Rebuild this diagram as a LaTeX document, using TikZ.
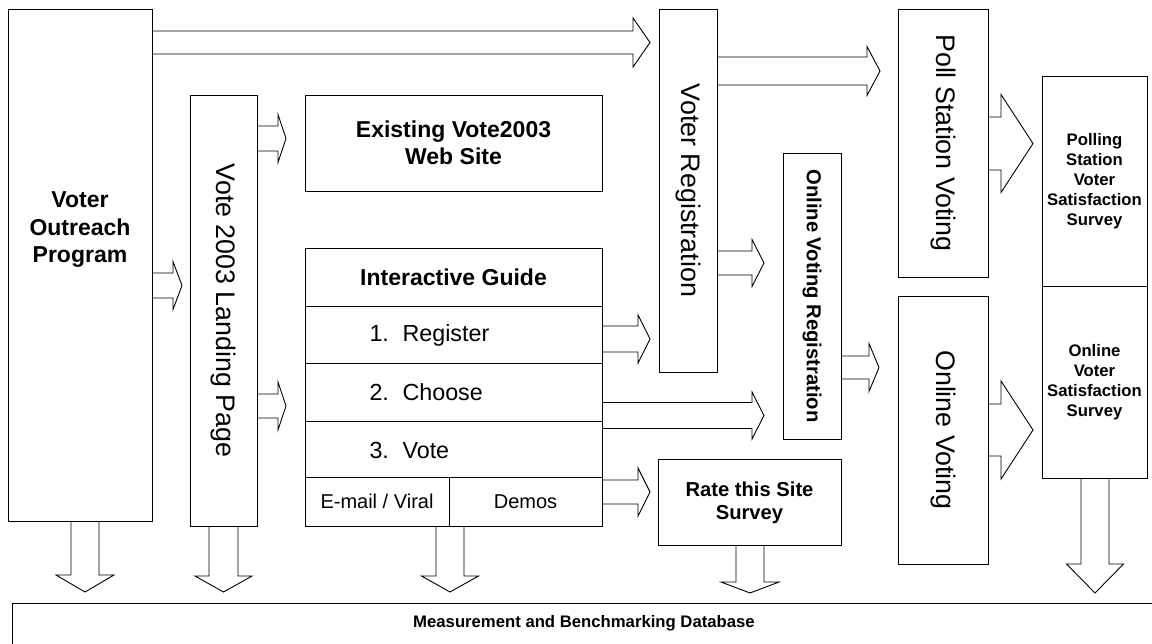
\documentclass[tikz,border=0pt]{standalone}
\usepackage{fontspec}
\setmainfont{Liberation Sans}
\usetikzlibrary{backgrounds}
\begin{document}
\begin{tikzpicture}[x=1pt,y=-1pt,
  box/.style={draw, line width=0.9pt, inner sep=0pt, align=center, fill=white},
  blk/.style={draw, line width=0.9pt, fill=white, line join=miter},
  bigb/.style={font=\fontsize{23}{27.5}\selectfont\bfseries, align=center},
  midb/.style={font=\fontsize{20.2}{23}\selectfont\bfseries},
  smlb/.style={font=\fontsize{16.7}{20}\selectfont\bfseries},
  rot/.style={font=\fontsize{26.8}{30}\selectfont, rotate=-90},
  item/.style={font=\fontsize{23.3}{27}\selectfont},
  itms/.style={font=\fontsize{20}{24}\selectfont}]
\useasboundingbox (0,0) rectangle (1152,643);
\clip (0,0) rectangle (1152,643);
% right block arrow: start node, x head, x tip, y centre, shaft half, head half
\newcommand\rarrow[6]{\draw[blk] (#1.east |- 0,#4-#5) -- (#2,#4-#5) -- (#2,#4-#6) -- (#3,#4) -- (#2,#4+#6) -- (#2,#4+#5) -- (#1.east |- 0,#4+#5);}
% down block arrow: start node, x centre, y head, y tip, shaft half, head half
\newcommand\darrow[6]{\draw[blk] (#2-#5,0 |- #1.south) -- (#2-#5,#3) -- (#2-#6,#3) -- (#2,#4) -- (#2+#6,#3) -- (#2+#5,#3) -- (#2+#5,0 |- #1.south);}

% boxes
\node[box, minimum width=144, minimum height=512] (outreach) at (80,265) {};
\node[bigb] at (80,230) {Voter\\Outreach\\Program};
\node[box, minimum width=67, minimum height=431] (landing) at (223.5,310.5) {};
\node[rot] at (landing.center) {Vote 2003 Landing Page};
\node[box, bigb, minimum width=297, minimum height=96] (existing) at (453.5,143) {Existing Vote2003\\Web Site};
\node[box, bigb, minimum width=297, minimum height=58] (guide) at (453.5,277) {Interactive Guide};
\node[box, minimum width=297, minimum height=57] (reg) at (453.5,334.5) {};
\node[box, minimum width=297, minimum height=58] (choose) at (453.5,392) {};
\node[box, minimum width=297, minimum height=56] (vote) at (453.5,449) {};
\node[box, itms, minimum width=144, minimum height=49] (email) at (377,501.5) {E-mail / Viral};
\node[box, itms, minimum width=153, minimum height=49] (demos) at (525.5,501.5) {Demos};
\node[item, anchor=west] at (366,335) {\makebox[33pt][l]{1.}Register};
\node[item, anchor=west] at (366,392) {\makebox[33pt][l]{2.}Choose};
\node[item, anchor=west] at (366,450) {\makebox[33pt][l]{3.}Vote};
\node[box, minimum width=58, minimum height=363] (voterreg) at (688,190.5) {};
\node[rot] at (voterreg.center) {Voter Registration};
\node[box, minimum width=58, minimum height=286] (ovr) at (812,296) {};
\node[midb, rotate=-90] at (ovr.center) {Online Voting Registration};
\node[box, midb, minimum width=183, minimum height=86] (rate) at (749.5,502.5) {Rate this Site\\Survey};
\node[box, minimum width=90, minimum height=268] (poll) at (943,143) {};
\node[rot] at (poll.center) {Poll Station Voting};
\node[box, minimum width=90, minimum height=268] (online) at (943,430) {};
\node[rot] at (online.center) {Online Voting};
\node[box, smlb, minimum width=105, minimum height=210] (survey1) at (1094.5,181) {Polling\\Station\\Voter\\Satisfaction\\Survey};
\node[box, smlb, minimum width=105, minimum height=192] (survey2) at (1094.5,382) {Online\\Voter\\Satisfaction\\Survey};
\node[box, minimum width=1144, minimum height=50] (db) at (584,628) {};
\node[smlb] at (584,623) {Measurement and Benchmarking Database};

\begin{pgfonlayer}{background}
% right block arrows
\rarrow{outreach}{633}{650}{42.5}{11.5}{24.5}
\rarrow{outreach}{173}{182}{285.5}{12.5}{24}
\rarrow{landing}{278}{286}{138.5}{12.5}{24}
\rarrow{landing}{278}{286}{406}{12}{24}
\rarrow{reg}{638}{650}{339}{13}{24}
\rarrow{choose}{752}{764}{415.5}{13}{23.5}
\rarrow{demos}{638}{650}{492}{12}{24}
\rarrow{voterreg}{752}{764}{263}{12}{23.5}
\rarrow{voterreg}{867}{880}{71}{14}{24.5}
\rarrow{ovr}{869}{879}{367.5}{11.5}{24}
\rarrow{poll}{1001}{1033}{143.5}{26.5}{49}
\rarrow{online}{1001}{1033}{430}{26}{49}
% down block arrows
\darrow{outreach}{85}{575}{592}{14}{29}
\darrow{landing}{223.5}{576}{592}{14.5}{28.5}
\darrow{email}{450}{576}{592}{14}{28.5}
\darrow{rate}{750}{582}{593}{14}{29}
\darrow{survey2}{1095}{564}{593}{14}{28.5}
\end{pgfonlayer}
\end{tikzpicture}
\end{document}
